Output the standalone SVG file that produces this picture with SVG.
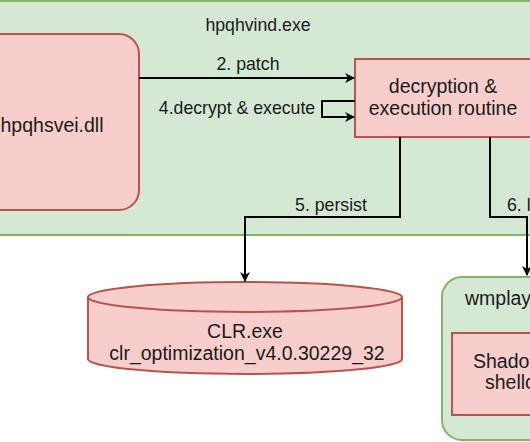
<svg xmlns="http://www.w3.org/2000/svg" width="530" height="442" viewBox="0 0 530 442">
<defs>
<style>
.g{fill:#d5e8d4;stroke:#82b366;stroke-width:2}
.r{fill:#f8cecc;stroke:#b85450;stroke-width:2}
.t{font-family:"Liberation Sans",Arial,sans-serif;fill:#1a1a1a}
.n{font-size:19.5px}
.l{font-size:17.7px}
.c{fill:none;stroke:#000;stroke-width:2}
</style>
<marker id="ah" viewBox="0 0 10 10" refX="9" refY="5" markerWidth="10" markerHeight="10" markerUnits="userSpaceOnUse" orient="auto">
<path d="M0,0 L10,5 L0,10 L3,5 Z" fill="#000"/>
</marker>
</defs>
<rect width="530" height="442" fill="#fff"/>
<g id="hpqhvind">
<rect class="g" x="-10" y="1" width="560" height="234"/>
<text class="t l" x="258" y="31" text-anchor="middle">hpqhvind.exe</text>
</g>
<g id="hpqhsvei">
<rect class="r" x="-34" y="34" width="173" height="176" rx="20"/>
<text class="t n" x="52" y="132" text-anchor="middle">hpqhsvei.dll</text>
</g>
<g id="routine">
<rect class="r" x="355" y="59" width="180" height="78"/>
<text class="t n" x="443" y="93" text-anchor="middle">decryption &amp;</text>
<text class="t n" x="443" y="115" text-anchor="middle">execution routine</text>
</g>
<g id="clr">
<path class="r" d="M88,297 A157,15 0 0 1 402,297 L402,359 A157,15 0 0 1 88,359 Z"/>
<path d="M88,297 A157,15 0 0 0 402,297" fill="none" stroke="#b85450" stroke-width="2"/>
<text class="t n" x="245" y="338" text-anchor="middle">CLR.exe</text>
<text class="t n" x="247" y="360" text-anchor="middle">clr_optimization_v4.0.30229_32</text>
</g>
<g id="wmplayer">
<rect class="g" x="442" y="277" width="110" height="163" rx="20"/>
<text class="t n" x="465" y="305">wmplay</text>
<rect class="r" x="452" y="333" width="100" height="82"/>
<text class="t n" x="473" y="368">Shado</text>
<text class="t n" x="485" y="389">shellc</text>
</g>
<g id="connectors">
<path class="c" d="M139,78 L354,78" marker-end="url(#ah)"/>
<path class="c" d="M355,101 L322,101 L322,117 L354,117" marker-end="url(#ah)"/>
<path class="c" d="M400,137 L400,217 L245,217 L245,281" marker-end="url(#ah)"/>
<path class="c" d="M490,137 L490,217 L527,217 L527,275" marker-end="url(#ah)"/>
<text class="t l" x="248" y="70" text-anchor="middle">2. patch</text>
<text class="t l" x="237" y="114" text-anchor="middle">4.decrypt &amp; execute</text>
<text class="t l" x="331" y="211" text-anchor="middle">5. persist</text>
<text class="t l" x="507" y="211">6. l</text>
</g>
</svg>
